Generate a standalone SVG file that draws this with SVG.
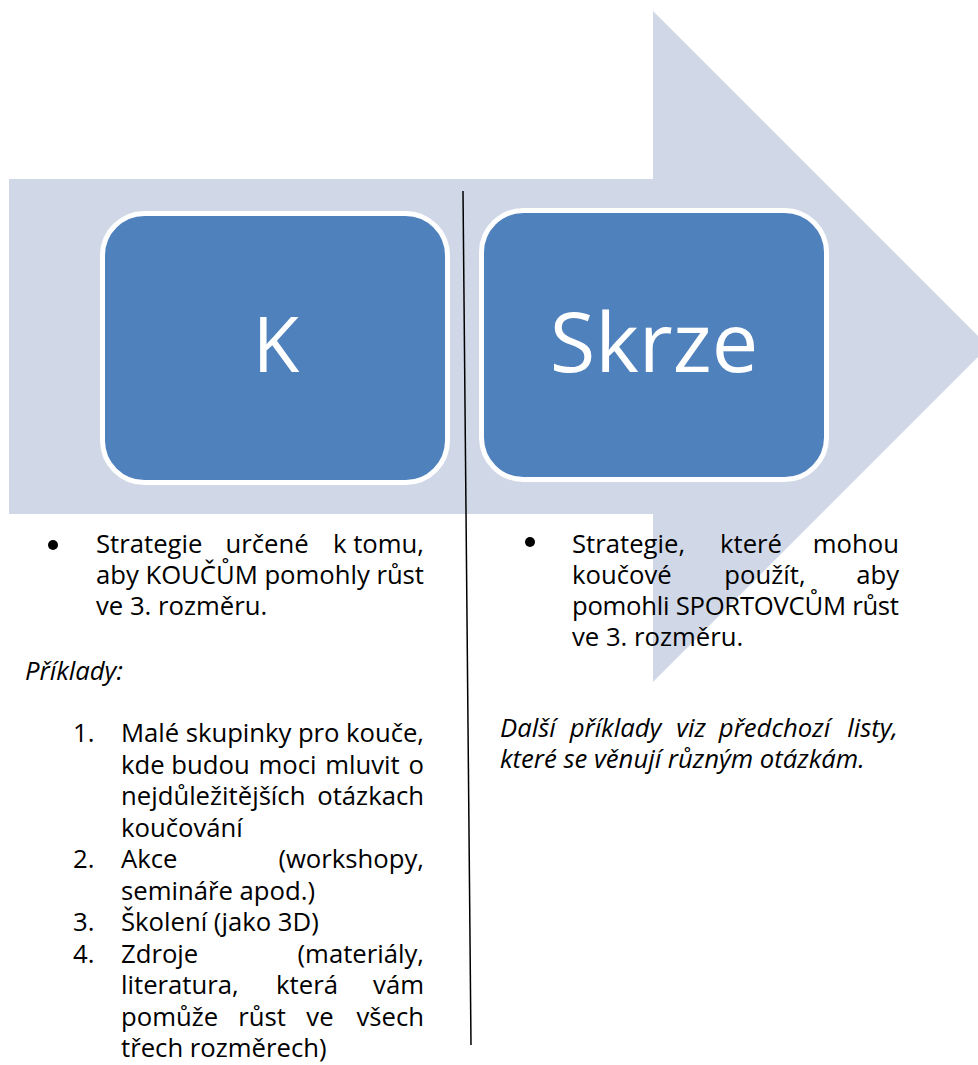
<svg xmlns="http://www.w3.org/2000/svg" width="978" height="1065" viewBox="0 0 978 1065">
<style>
.t{font-family:"Open Sans","Noto Sans",sans-serif;font-size:25.7px;fill:#000}
.i{font-style:italic}
.e{text-anchor:end}
.m{text-anchor:middle}
.box{fill:#4F81BD;stroke:#FFFFFF;stroke-width:5}
.big{font-family:"Open Sans","Noto Sans",sans-serif;fill:#FFFFFF;text-anchor:middle}
</style>
<rect width="978" height="1065" fill="#FFFFFF"/>
<g id="arrow">
<polygon points="9,179 653,179 653,11 988.5,346.5 653,682 653,514 9,514" fill="#D0D8E8"/>
</g>
<g id="node-k">
<rect class="box" x="102.5" y="213.5" width="345" height="269" rx="42" ry="42"/>
<text class="big" x="276" y="372" font-size="76">K</text>
</g>
<g id="node-skrze">
<rect class="box" x="481.5" y="210.5" width="345" height="269" rx="42" ry="42"/>
<text class="big" x="654" y="372" font-size="83">Skrze</text>
</g>
<g id="connectors">
<line x1="463" y1="191" x2="471" y2="1045" stroke="#000" stroke-width="1.5"/>
</g>
<g id="left-text">
<circle cx="53" cy="545" r="5"/>
<text class="t" x="96" y="553">Strategie</text>
<text class="t m" x="267" y="553">určené</text>
<text class="t e" x="424" y="553">k tomu,</text>
<text class="t" x="96" y="584" textLength="328" lengthAdjust="spacing">aby KOUČŮM pomohly růst</text>
<text class="t" x="96" y="615">ve 3. rozměru.</text>
<text class="t i" x="25" y="680">Příklady:</text>
<text class="t" x="73" y="742">1.</text>
<text class="t" x="121" y="742" textLength="303" lengthAdjust="spacing">Malé skupinky pro kouče,</text>
<text class="t" x="121" y="773.5">kde</text>
<text class="t m" x="210.5" y="773.5">budou</text>
<text class="t m" x="287.5" y="773.5">moci</text>
<text class="t m" x="362.5" y="773.5">mluvit</text>
<text class="t e" x="424" y="773.5">o</text>
<text class="t" x="121" y="805">nejdůležitějších</text>
<text class="t e" x="424" y="805">otázkach</text>
<text class="t" x="121" y="836.5">koučování</text>
<text class="t" x="73" y="868">2.</text>
<text class="t" x="121" y="868">Akce</text>
<text class="t e" x="424" y="868">(workshopy,</text>
<text class="t" x="121" y="899.5">semináře apod.)</text>
<text class="t" x="73" y="931">3.</text>
<text class="t" x="121" y="931">Školení (jako 3D)</text>
<text class="t" x="73" y="962.5">4.</text>
<text class="t" x="121" y="962.5">Zdroje</text>
<text class="t e" x="424" y="962.5">(materiály,</text>
<text class="t" x="121" y="994">literatura,</text>
<text class="t m" x="307" y="994">která</text>
<text class="t e" x="424" y="994">vám</text>
<text class="t" x="121" y="1025.5">pomůže</text>
<text class="t m" x="262" y="1025.5">růst</text>
<text class="t m" x="320" y="1025.5">ve</text>
<text class="t e" x="424" y="1025.5">všech</text>
<text class="t" x="121" y="1057">třech rozměrech)</text>
</g>
<g id="right-text">
<circle cx="530" cy="542" r="5"/>
<text class="t" x="572" y="553">Strategie,</text>
<text class="t m" x="751" y="553">které</text>
<text class="t e" x="899" y="553">mohou</text>
<text class="t" x="572" y="584">koučové</text>
<text class="t m" x="765" y="584">použít,</text>
<text class="t e" x="899" y="584">aby</text>
<text class="t" x="572" y="615" textLength="327" lengthAdjust="spacing">pomohli SPORTOVCŮM růst</text>
<text class="t" x="572" y="646">ve 3. rozměru.</text>
<text class="t i" x="500" y="737">Další</text>
<text class="t i m" x="615.5" y="737">příklady</text>
<text class="t i m" x="691" y="737">viz</text>
<text class="t i m" x="774.5" y="737">předchozí</text>
<text class="t i e" x="898" y="737">listy,</text>
<text class="t i" x="500" y="768">které se věnují různým otázkám.</text>
</g>
</svg>
